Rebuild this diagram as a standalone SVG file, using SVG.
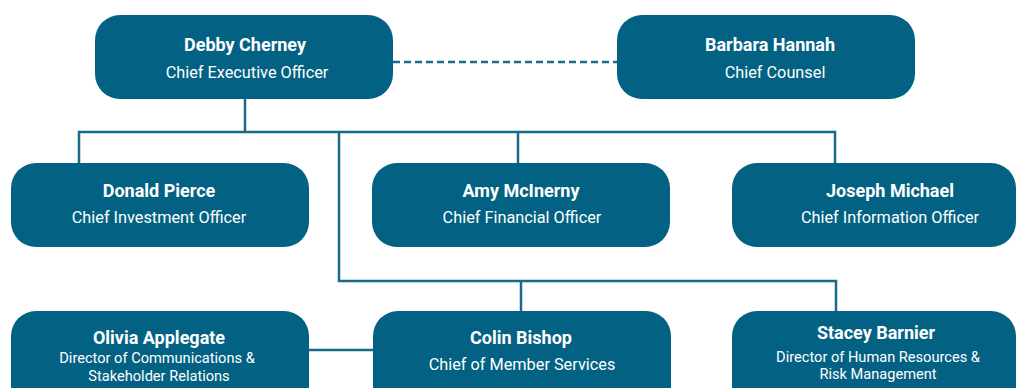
<svg xmlns="http://www.w3.org/2000/svg" width="1016" height="388" viewBox="0 0 1016 388">
<style>
.box{fill:#036283;}
.nm{font-family:Roboto,"Liberation Sans",sans-serif;font-weight:700;font-size:18px;fill:#fff;text-anchor:middle;}
.tt{font-family:Roboto,"Liberation Sans",sans-serif;font-weight:400;font-size:16.3px;fill:#fff;text-anchor:middle;}
.ts{font-family:Roboto,"Liberation Sans",sans-serif;font-weight:400;font-size:14.6px;fill:#fff;text-anchor:middle;}
.ln{fill:none;stroke:#176b89;stroke-width:2.5;}
.dash{fill:none;stroke:#176b89;stroke-width:2.5;stroke-dasharray:7 4;}
</style>
<rect width="1016" height="388" fill="#fff"/>
<g id="connectors">
<line class="dash" x1="393" y1="62" x2="617" y2="62"/>
<polyline class="ln" points="245,99 245,132"/>
<polyline class="ln" points="79,163 79,132 835,132 835,163"/>
<polyline class="ln" points="518,132 518,163"/>
<polyline class="ln" points="339,132 339,281 836,281 836,311"/>
<polyline class="ln" points="521,281 521,311"/>
<line class="ln" x1="309" y1="350" x2="373" y2="350"/>
</g>
<g id="ceo"><rect class="box" x="95" y="15" width="298" height="84" rx="25"/><text class="nm" x="245" y="51">Debby Cherney</text><text class="tt" x="247" y="78">Chief Executive Officer</text></g>
<g id="counsel"><rect class="box" x="617" y="15" width="298" height="84" rx="25"/><text class="nm" x="770" y="51">Barbara Hannah</text><text class="tt" x="775" y="78">Chief Counsel</text></g>
<g id="cio-invest"><rect class="box" x="11" y="163" width="298" height="84" rx="25"/><text class="nm" x="159" y="197">Donald Pierce</text><text class="tt" x="159" y="223">Chief Investment Officer</text></g>
<g id="cfo"><rect class="box" x="372" y="163" width="298" height="84" rx="25"/><text class="nm" x="521" y="197">Amy McInerny</text><text class="tt" x="522" y="223">Chief Financial Officer</text></g>
<g id="cio-info"><rect class="box" x="732" y="163" width="284" height="84" rx="25"/><text class="nm" x="890" y="197">Joseph Michael</text><text class="tt" x="890" y="223">Chief Information Officer</text></g>
<g id="comms"><rect class="box" x="11" y="311" width="298" height="100" rx="25"/><text class="nm" x="159" y="344">Olivia Applegate</text><text class="ts" x="157" y="363">Director of Communications &amp;</text><text class="ts" x="159" y="381">Stakeholder Relations</text></g>
<g id="member"><rect class="box" x="373" y="311" width="298" height="100" rx="25"/><text class="nm" x="521" y="344">Colin Bishop</text><text class="tt" x="522" y="370">Chief of Member Services</text></g>
<g id="hr"><rect class="box" x="732" y="311" width="284" height="100" rx="25"/><text class="nm" x="876" y="339">Stacey Barnier</text><text class="ts" x="878" y="362">Director of Human Resources &amp;</text><text class="ts" x="878" y="379">Risk Management</text></g>
</svg>
